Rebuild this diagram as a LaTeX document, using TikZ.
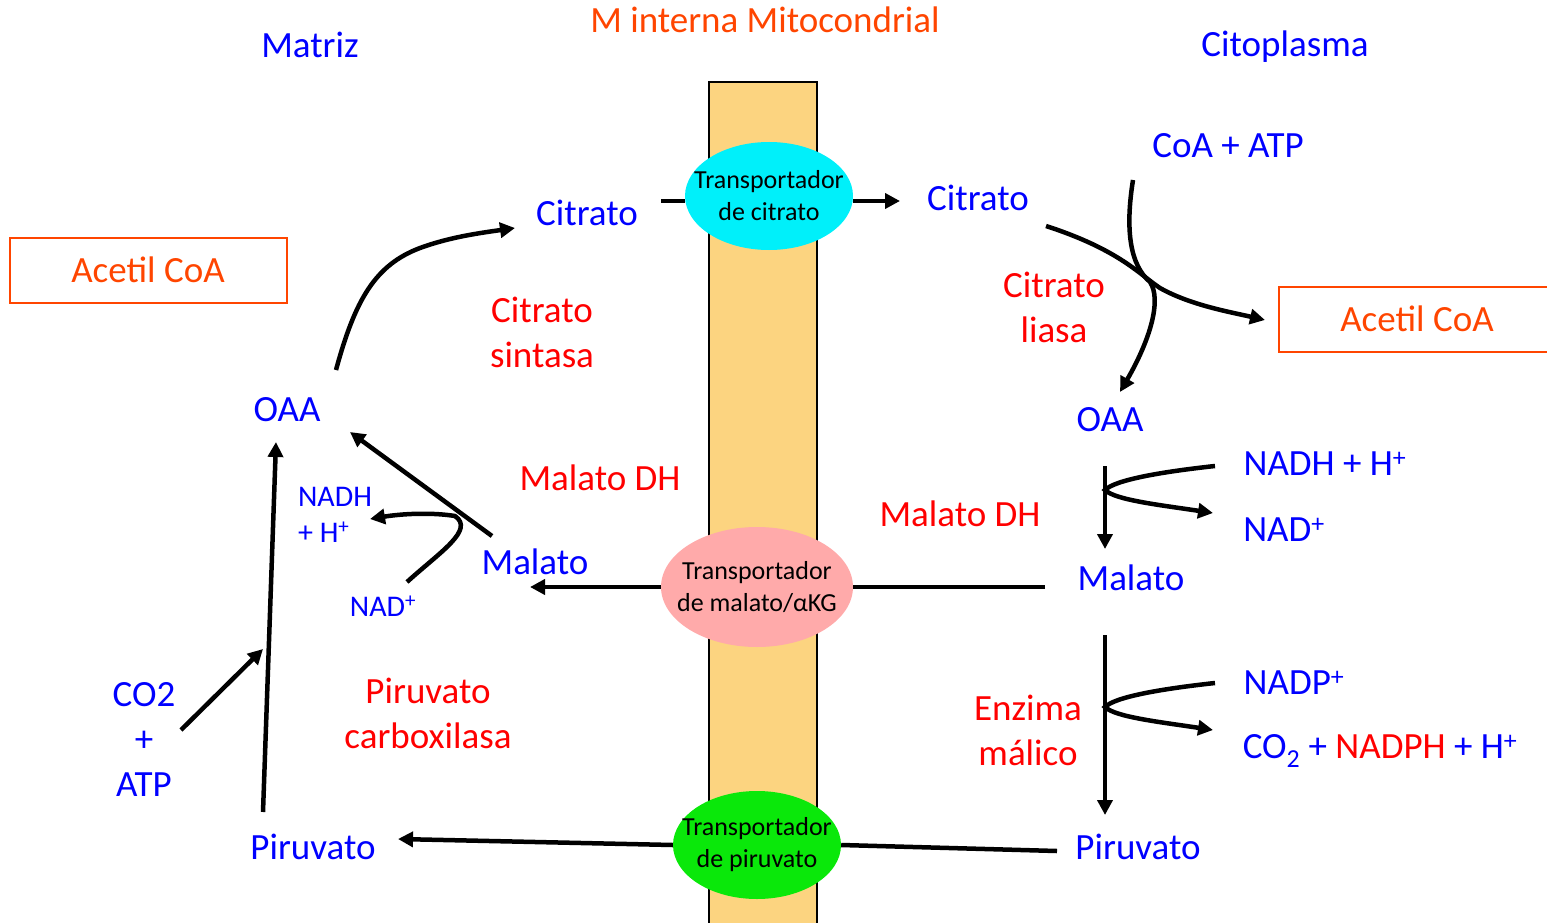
\documentclass[tikz,border=0pt]{standalone}
\usepackage{fontspec}
\setmainfont{Carlito}
\usetikzlibrary{arrows.meta,shapes.geometric}

\definecolor{naranja}{RGB}{255,69,0}
\definecolor{membrana}{RGB}{252,212,128}
\definecolor{celeste}{RGB}{0,240,250}
\definecolor{rosa}{RGB}{255,170,170}
\definecolor{verde}{RGB}{10,232,10}

\tikzset{
  azul/.style={text=blue, font=\fontsize{37}{45}\selectfont, inner sep=0pt},
  azulchico/.style={text=blue, font=\fontsize{30}{36}\selectfont, inner sep=0pt, align=left},
  rojo/.style={text=red, font=\fontsize{37}{45}\selectfont, inner sep=0pt, align=center},
  caja/.style={draw=naranja, line width=2pt, text=naranja, font=\fontsize{37}{45}\selectfont,
               minimum width=277pt, minimum height=65pt},
  transp/.style={ellipse, inner xsep=-18pt, inner ysep=0pt, align=center, text=black,
                 font=\fontsize{26}{32}\selectfont},
  linea/.style={line width=4.5pt},
  flecha/.style={line width=4.5pt, -{Triangle[length=15pt,width=15pt]}},
}

\begin{document}
\begin{tikzpicture}[x=1pt, y=-1pt]
  \useasboundingbox (0,0) rectangle (1547,923);

  % ========== membrana ==========
  \draw[fill=membrana, line width=1.5pt] (709,82) rectangle (817,940);

  % ========== titulos ==========
  \node[azul] (matriz) at (310,45) {Matriz};
  \node[text=naranja, font=\fontsize{37}{45}\selectfont, inner sep=0pt] (mint) at (765,20) {M interna Mitocondrial};
  \node[azul] (citoplasma) at (1285,47) {Citoplasma};

  % ========== transportadores ==========
  \node[transp, fill=celeste, minimum width=168pt, minimum height=108pt] (tcit) at (769,196) {Transportador\\de citrato};
  \node[transp, fill=rosa, minimum width=192pt, minimum height=120pt] (tmal) at (757,587) {Transportador\\de malato/αKG};
  \node[transp, fill=verde, minimum width=168pt, minimum height=108pt] (tpir) at (757,845) {Transportador\\de piruvato};

  % ========== lado matriz ==========
  \node[azul] (citI) at (587,213) {Citrato};
  \node[caja] (acI) at (148,270) {Acetil CoA};
  \node[rojo] (csint) at (542,332) {Citrato\\sintasa};
  \node[azul] (oaaI) at (287,410) {OAA};
  \node[rojo] (mdhI) at (600,478) {Malato DH};
  \node[azul] (malI) at (535,562) {Malato};
  \node[azulchico] (nadhI) at (335,515) {NADH\\+ H\textsuperscript{+}};
  \node[azulchico] (nadI) at (383,606) {NAD\textsuperscript{+}};
  \node[azul, align=center] (co2) at (144,739) {CO2\\+\\ATP};
  \node[rojo] (pcarb) at (428,713) {Piruvato\\carboxilasa};
  \node[azul] (pirI) at (313,847) {Piruvato};

  % ========== lado citoplasma ==========
  \node[azul] (citE) at (978,198) {Citrato};
  \node[azul] (coaatp) at (1228,146) {CoA + ATP};
  \node[rojo] (cliasa) at (1054,307) {Citrato\\liasa};
  \node[caja] (acE) at (1417,319) {Acetil CoA};
  \node[azul] (oaaE) at (1110,420) {OAA};
  \node[rojo] (mdhE) at (960,514) {Malato DH};
  \node[azul] (nadhE) at (1325,464) {NADH + H\textsuperscript{+}};
  \node[azul] (nadE) at (1284,530) {NAD\textsuperscript{+}};
  \node[azul] (malE) at (1131,578) {Malato};
  \node[azul] (nadpE) at (1294,683) {NADP\textsuperscript{+}};
  \node[rojo] (enz) at (1028,730) {Enzima\\málico};
  \node[azul] (prodE) at (1380,751) {CO\textsubscript{2} + \textcolor{red}{NADPH} + H\textsuperscript{+}};
  \node[azul] (pirE) at (1138,847) {Piruvato};

  % ========== puntos libres ==========
  \coordinate (a1) at (661,201);
  \coordinate (a2) at (900,201);
  \coordinate (b1) at (1133,180);
  \coordinate (b2) at (1046,226);
  \coordinate (b3) at (1265,320);
  \coordinate (b4) at (1120,392);
  \coordinate (d1) at (1105,466);
  \coordinate (d2) at (1105,549);
  \coordinate (d3) at (1215,466);
  \coordinate (d4) at (1213,513);
  \coordinate (e1) at (1105,635);
  \coordinate (e2) at (1105,815);
  \coordinate (e3) at (1215,683);
  \coordinate (e4) at (1213,730);
  \coordinate (m1) at (1045,587);
  \coordinate (m2) at (530,587);
  \coordinate (p1) at (1057,851);
  \coordinate (p2) at (398,839);
  \coordinate (o1) at (336,370);
  \coordinate (o2) at (515,228);
  \coordinate (l1) at (492,536);
  \coordinate (l2) at (350,432);
  \coordinate (n1) at (407,582);
  \coordinate (n2) at (370,519);
  \coordinate (v1) at (263,812);
  \coordinate (v2) at (276,442);
  \coordinate (c1) at (181,730);
  \coordinate (c2) at (263,649);

  % ========== conectores ==========
  % citrato por la membrana
  \draw[linea] (a1) -- (a1 -| tcit.west);
  \draw[flecha] (a2 -| tcit.east) -- (a2);

  % citrato liasa
  \draw[flecha] (b2) .. controls (1120,250) and (1140,275) .. (1160,288)
                     .. controls (1190,305) and (1230,312) .. (b3);
  \draw[flecha] (b1) .. controls (1125,230) and (1130,265) .. (1150,282)
                     .. controls (1162,300) and (1150,340) .. (b4);

  % malato DH citoplasma
  \draw[flecha] (d1) -- (d2);
  \draw[flecha] (d3) .. controls (1160,472) and (1115,480) .. (1105,490)
                     .. controls (1115,500) and (1160,505) .. (d4);

  % enzima malico
  \draw[flecha] (e1) -- (e2);
  \draw[flecha] (e3) .. controls (1160,689) and (1115,697) .. (1105,707)
                     .. controls (1115,717) and (1160,722) .. (e4);

  % malato y piruvato por la membrana
  \draw[linea] (m1) -- (tmal.east);
  \draw[flecha] (tmal.west) -- (m2);
  \draw[linea] (p1) -- (tpir.east);
  \draw[flecha] (tpir.west) -- (p2);

  % matriz
  \draw[flecha] (o1) .. controls (355,300) and (375,265) .. (420,248)
                     .. controls (450,237) and (480,233) .. (o2);
  \draw[flecha] (l1) -- (l2);
  \draw[flecha] (n1) .. controls (440,552) and (475,530) .. (455,516)
                     .. controls (430,512) and (400,514) .. (n2);
  \draw[flecha] (v1) -- (v2);
  \draw[flecha] (c1) -- (c2);

\end{tikzpicture}
\end{document}
